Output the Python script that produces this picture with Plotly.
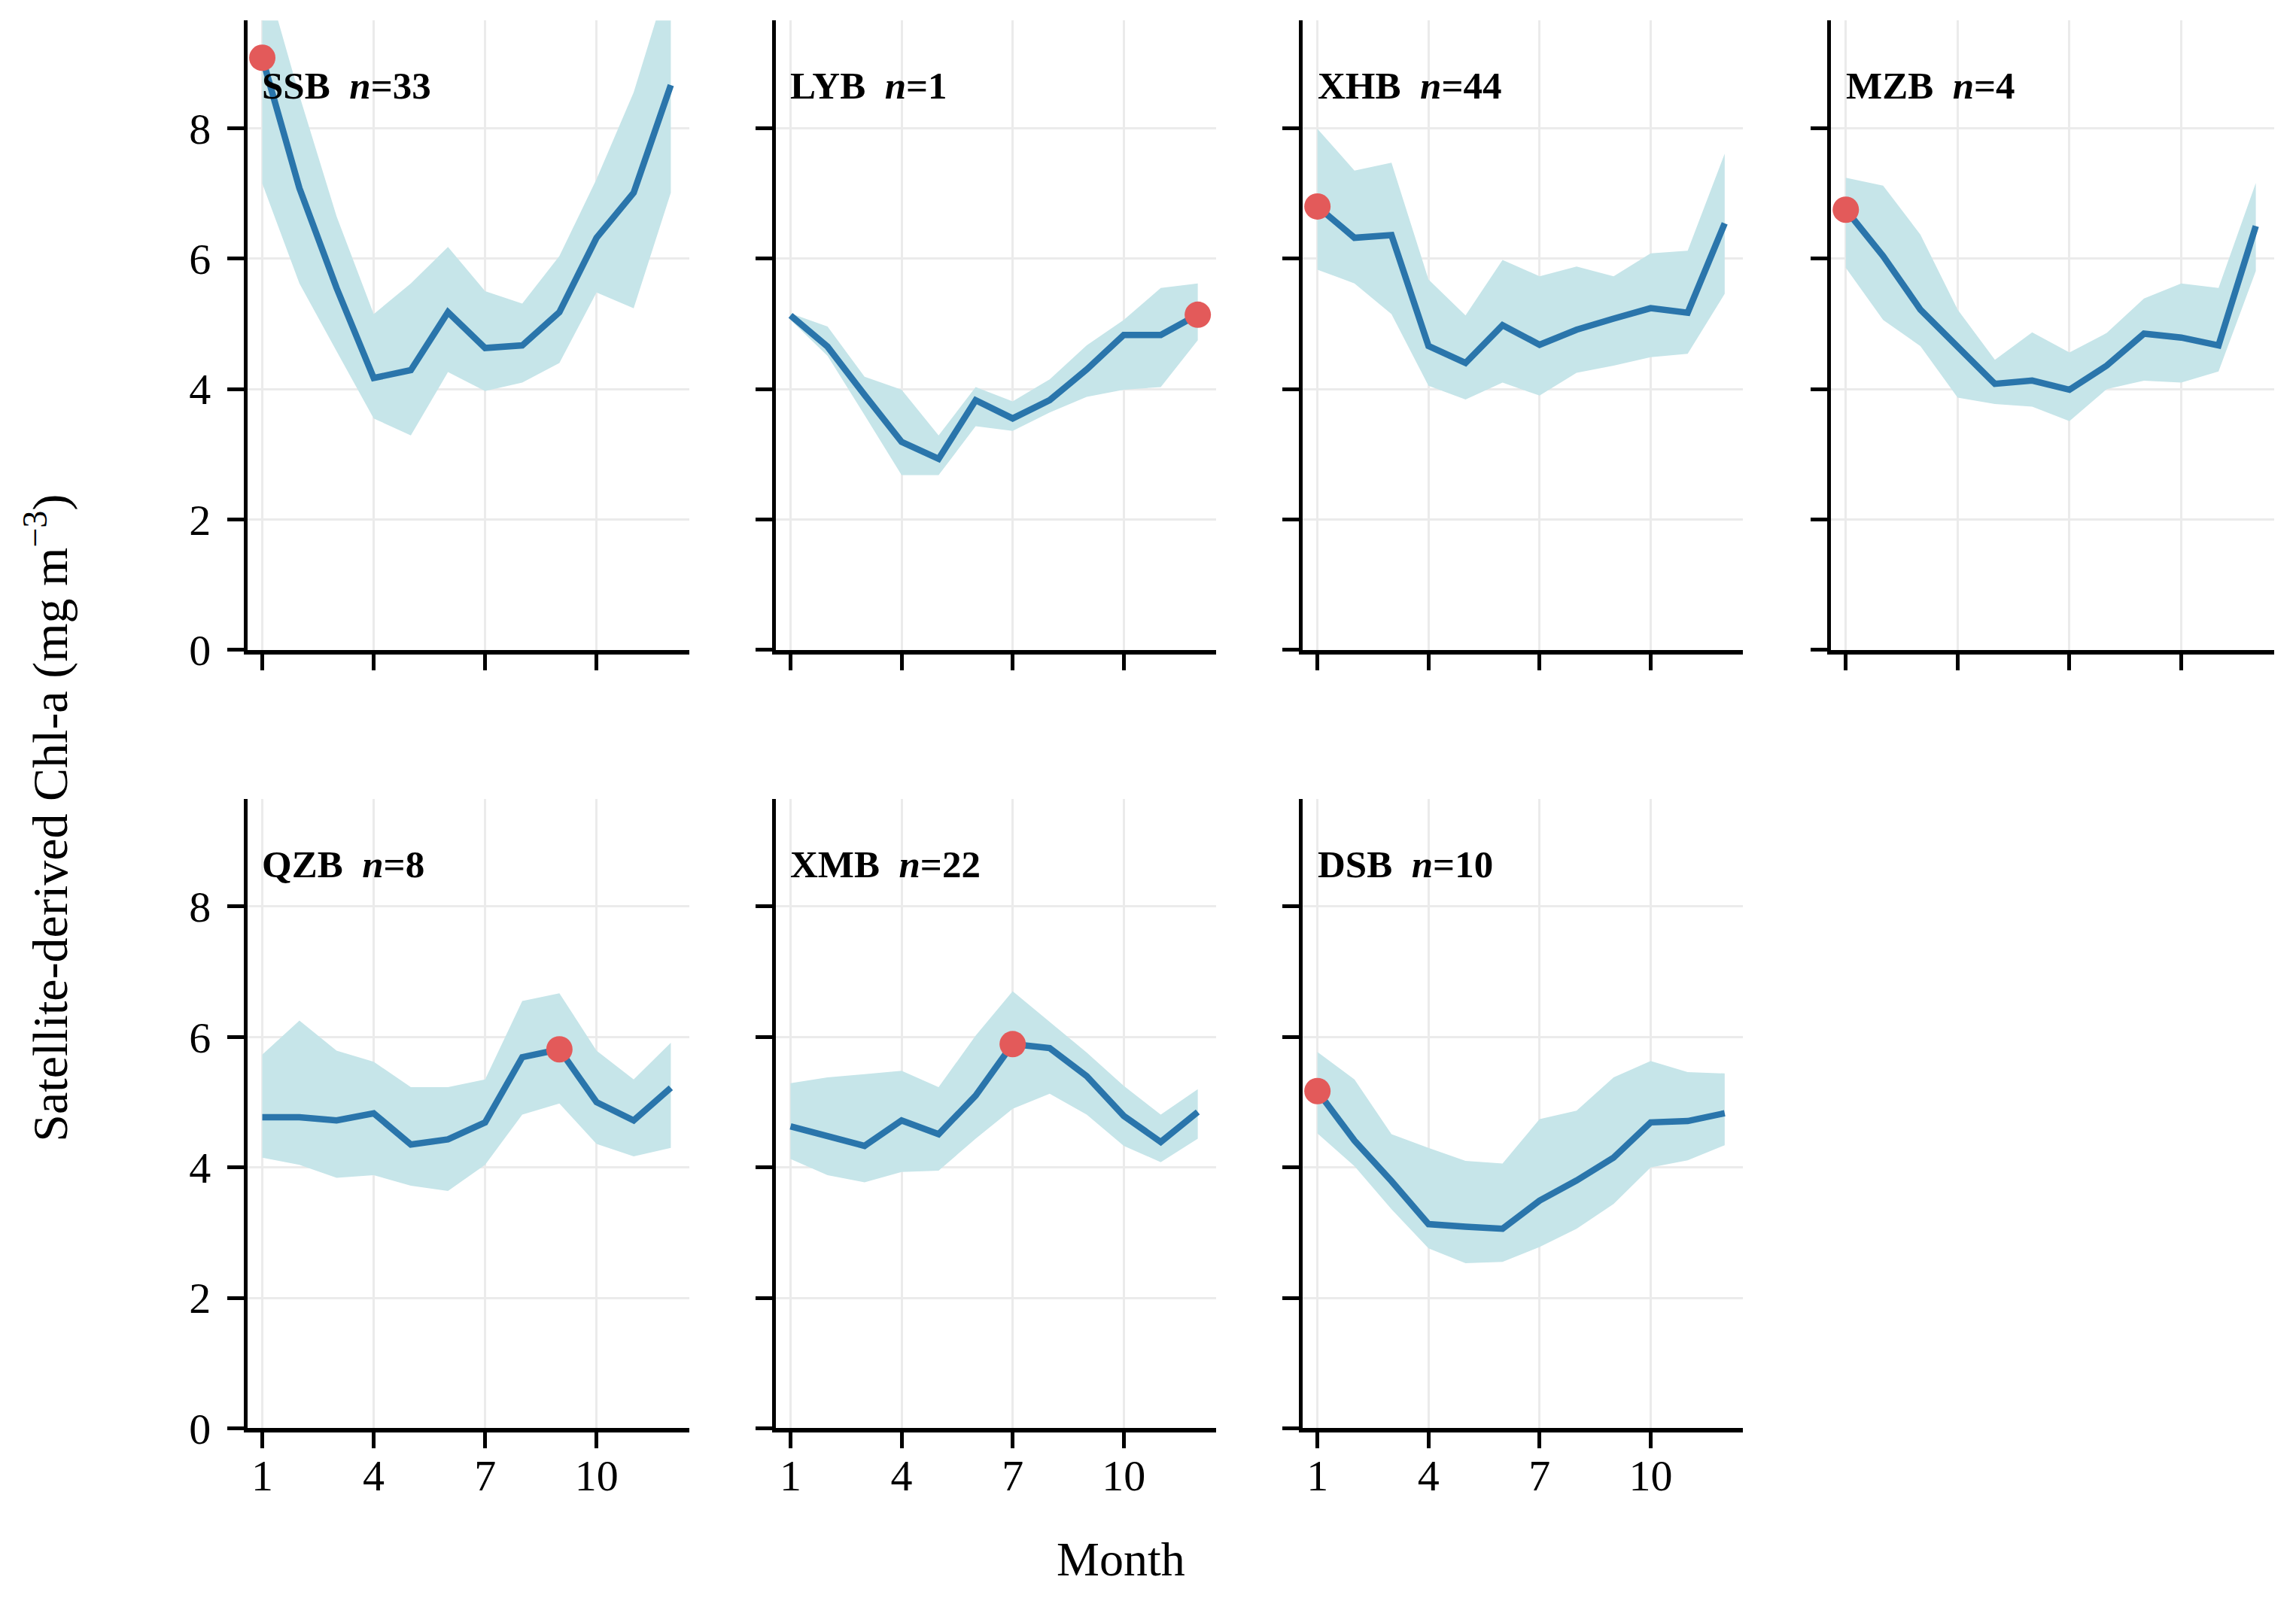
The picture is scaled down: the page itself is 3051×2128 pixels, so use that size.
import plotly.graph_objects as go
from plotly.subplots import make_subplots

# monthly satellite chl-a climatology per bay (mean line + shaded range)
months = list(range(1, 13))
basins = ["SSB", "LYB", "XHB", "MZB", "QZB", "XMB", "DSB"]
n_sites = [33, 1, 44, 4, 8, 22, 10]
peak_month = [1, 12, 1, 1, 9, 7, 1]

ssb_mean = [9.08, 7.08, 5.55, 4.17, 4.29, 5.18, 4.63, 4.67, 5.18, 6.32, 7.01, 8.66]
ssb_low = [7.15, 5.62, 4.58, 3.55, 3.29, 4.26, 3.97, 4.10, 4.40, 5.48, 5.24, 7.01]
ssb_high = [10.5, 8.5, 6.65, 5.15, 5.62, 6.18, 5.50, 5.31, 6.04, 7.22, 8.55, 10.4]

lyb_mean = [5.13, 4.65, 3.91, 3.19, 2.93, 3.83, 3.55, 3.83, 4.30, 4.83, 4.83, 5.14]
lyb_low = [5.06, 4.51, 3.60, 2.68, 2.68, 3.43, 3.36, 3.64, 3.88, 3.99, 4.03, 4.75]
lyb_high = [5.16, 4.96, 4.19, 3.99, 3.29, 4.03, 3.81, 4.15, 4.67, 5.06, 5.55, 5.62]

xhb_mean = [6.80, 6.32, 6.36, 4.66, 4.40, 4.98, 4.68, 4.91, 5.08, 5.24, 5.17, 6.54]
xhb_low = [5.83, 5.62, 5.15, 4.05, 3.84, 4.10, 3.90, 4.25, 4.36, 4.49, 4.54, 5.46]
xhb_high = [7.99, 7.35, 7.47, 5.68, 5.13, 5.98, 5.73, 5.88, 5.73, 6.08, 6.12, 7.61]

mzb_mean = [6.75, 6.04, 5.22, 4.66, 4.08, 4.13, 3.99, 4.36, 4.85, 4.79, 4.67, 6.50]
mzb_low = [5.86, 5.06, 4.66, 3.87, 3.77, 3.73, 3.51, 4.00, 4.13, 4.10, 4.27, 5.81]
mzb_high = [7.24, 7.12, 6.37, 5.22, 4.45, 4.87, 4.56, 4.86, 5.39, 5.62, 5.55, 7.16]

qzb_mean = [4.77, 4.77, 4.72, 4.83, 4.35, 4.43, 4.69, 5.69, 5.81, 5.00, 4.72, 5.22]
qzb_low = [4.15, 4.04, 3.84, 3.88, 3.72, 3.64, 4.04, 4.81, 4.98, 4.36, 4.17, 4.30]
qzb_high = [5.73, 6.25, 5.79, 5.62, 5.23, 5.23, 5.35, 6.55, 6.67, 5.79, 5.35, 5.91]

xmb_mean = [4.63, 4.48, 4.33, 4.72, 4.51, 5.10, 5.89, 5.83, 5.40, 4.79, 4.39, 4.85]
xmb_low = [4.13, 3.88, 3.77, 3.93, 3.95, 4.44, 4.90, 5.13, 4.81, 4.33, 4.08, 4.44]
xmb_high = [5.29, 5.38, 5.43, 5.48, 5.23, 6.02, 6.70, 6.23, 5.76, 5.25, 4.81, 5.20]

dsb_mean = [5.17, 4.41, 3.79, 3.13, 3.09, 3.06, 3.49, 3.80, 4.15, 4.69, 4.71, 4.83]
dsb_low = [4.52, 4.02, 3.36, 2.76, 2.53, 2.55, 2.78, 3.06, 3.44, 4.00, 4.11, 4.34]
dsb_high = [5.77, 5.35, 4.51, 4.30, 4.10, 4.06, 4.74, 4.87, 5.38, 5.63, 5.46, 5.44]

means = [ssb_mean, lyb_mean, xhb_mean, mzb_mean, qzb_mean, xmb_mean, dsb_mean]
lows = [ssb_low, lyb_low, xhb_low, mzb_low, qzb_low, xmb_low, dsb_low]
highs = [ssb_high, lyb_high, xhb_high, mzb_high, qzb_high, xmb_high, dsb_high]

line_col = "#2a75ab"
band_col = "#c6e5e9"
dot_col = "#e35a5a"
font_name = "Liberation Serif"

fig = make_subplots(rows=2, cols=4)

x_domains = [[0.1057, 0.2992], [0.3370, 0.5299], [0.5677, 0.7606], [0.7990, 0.9932]]
y_domains = [[0.5883, 0.9907], [0.0907, 0.4931]]

for i, name in enumerate(basins):
    r = i // 4 + 1
    c = i % 4 + 1
    fig.add_trace(go.Scatter(x=months, y=lows[i], mode="lines",
                             line=dict(width=0, color=band_col), hoverinfo="skip"),
                  row=r, col=c)
    fig.add_trace(go.Scatter(x=months, y=highs[i], mode="lines", fill="tonexty",
                             fillcolor=band_col, line=dict(width=0, color=band_col),
                             hoverinfo="skip"),
                  row=r, col=c)
    fig.add_trace(go.Scatter(x=months, y=means[i], mode="lines",
                             line=dict(width=8.5, color=line_col)),
                  row=r, col=c)
    pk = peak_month[i]
    fig.add_trace(go.Scatter(x=[pk], y=[means[i][pk - 1]], mode="markers",
                             marker=dict(size=35, color=dot_col), cliponaxis=False),
                  row=r, col=c)

# axes for every panel
for r in (1, 2):
    for c in (1, 2, 3, 4):
        if r == 2 and c == 4:
            fig.update_xaxes(visible=False, domain=x_domains[c - 1], row=r, col=c)
            fig.update_yaxes(visible=False, domain=y_domains[r - 1], row=r, col=c)
            continue
        fig.update_xaxes(domain=x_domains[c - 1], range=[0.6, 12.5],
                         tickvals=[1, 4, 7, 10], showticklabels=(r == 2),
                         showgrid=True, gridcolor="#ebebeb", gridwidth=2.5,
                         showline=True, linecolor="black", linewidth=6,
                         ticks="outside", ticklen=21, tickwidth=4.5, tickcolor="black",
                         zeroline=False, tickfont=dict(size=58), ticklabelstandoff=-14,
                         row=r, col=c)
        fig.update_yaxes(domain=y_domains[r - 1], range=[0, 9.65],
                         tickvals=[0, 2, 4, 6, 8], showticklabels=(c == 1),
                         showgrid=True, gridcolor="#ebebeb", gridwidth=2.5,
                         showline=True, linecolor="black", linewidth=5,
                         ticks="outside", ticklen=22, tickwidth=4.5, tickcolor="black",
                         zeroline=False, tickfont=dict(size=58), ticklabelstandoff=10,
                         row=r, col=c)

# panel labels
axis_ids = ["", "2", "3", "4", "5", "6", "7"]
for i, name in enumerate(basins):
    fig.add_annotation(text="<b>" + name + " &nbsp;<i>n</i>=" + str(n_sites[i]) + "</b>",
                       xref="x" + axis_ids[i] + " domain", yref="y" + axis_ids[i] + " domain",
                       x=0.03, y=0.896, xanchor="left", yanchor="middle",
                       showarrow=False, font=dict(size=51, color="black"))

fig.add_annotation(text="Month", xref="paper", yref="paper", x=0.488, y=0.007,
                   xanchor="center", yanchor="middle", showarrow=False,
                   font=dict(size=64, color="black"))
fig.add_annotation(text="Satellite-derived Chl-a (mg m<sup>\u22123</sup>)",
                   xref="paper", yref="paper", x=0.018, y=0.481, textangle=-90,
                   xanchor="center", yanchor="middle", showarrow=False,
                   font=dict(size=66, color="black"))

fig.update_layout(width=3035, height=2112, margin=dict(l=0, r=0, t=0, b=0),
                  plot_bgcolor="white", paper_bgcolor="white", showlegend=False,
                  font=dict(family=font_name, size=58, color="black"))

fig.write_html("out.html")
